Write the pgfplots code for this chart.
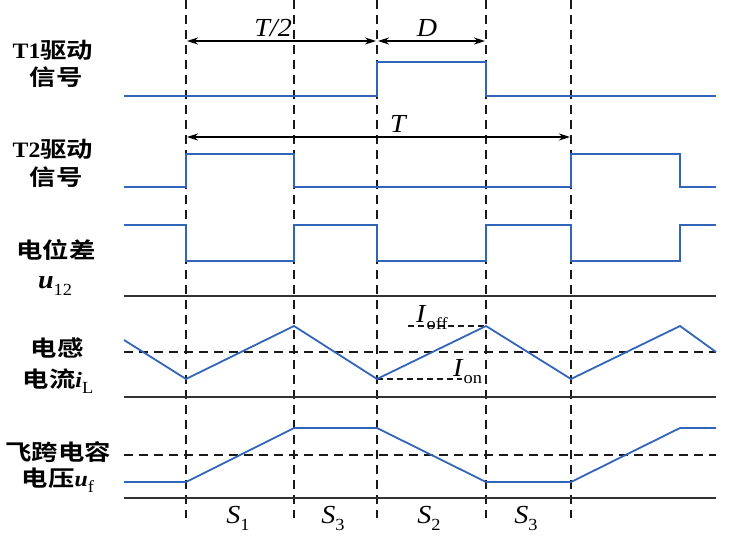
\documentclass[border=0pt]{standalone}
\usepackage{pgfplots}
\pgfplotsset{compat=1.18}
\usetikzlibrary{arrows.meta}
\usepackage{fontspec}
\setmainfont{Liberation Serif}[FakeStretch=1.08]
\newfontfamily\cjk[FakeStretch=1.2,BoldFont={Noto Sans CJK SC Bold}]{Noto Sans CJK SC}
\definecolor{sig}{RGB}{50,100,185}
\definecolor{base}{RGB}{50,50,50}
\newcommand{\sub}[1]{\raisebox{-0.6ex}{\fontsize{17}{17}\selectfont\mdseries\upshape #1}}
\begin{document}
\begin{tikzpicture}
\begin{axis}[
  at={(0,0)}, anchor=south west,
  scale only axis, width=733pt, height=538pt,
  xmin=0, xmax=733, ymin=0, ymax=538, y dir=reverse,
  hide axis, clip=false,
]
% vertical dashed guides
\foreach \xx in {186,294,377,486,571} {
  \edef\tmp{\noexpand\addplot[black!90, line width=1.1pt, dash pattern=on 9pt off 6pt] coordinates {(\xx,0) (\xx,518)};}
  \tmp
}
% baselines
\addplot[base, line width=1.6pt] coordinates {(124,296) (716,296)};
\addplot[base, line width=1.6pt] coordinates {(124,397) (716,397)};
\addplot[base, line width=1.6pt] coordinates {(124,498) (716,498)};
% mid dashed lines
\addplot[black!90, line width=1.1pt, dash pattern=on 9pt off 6pt] coordinates {(124,352) (716,352)};
\addplot[black!90, line width=1.1pt, dash pattern=on 9pt off 6pt] coordinates {(124,455) (716,455)};
\addplot[black!90, line width=1.1pt, dash pattern=on 6pt off 4pt] coordinates {(408,326) (486,326)};
\addplot[black!90, line width=1.1pt, dash pattern=on 6pt off 4pt] coordinates {(377,379) (462,379)};
% T1
\addplot[sig, line width=1.8pt] coordinates {(124,96) (377,96) (377,62) (486,62) (486,96) (716,96)};
% T2
\addplot[sig, line width=1.8pt] coordinates {(124,187) (186,187) (186,154) (294,154) (294,187) (571,187) (571,154) (680,154) (680,187) (716,187)};
% u12
\addplot[sig, line width=1.8pt] coordinates {(124,225) (186,225) (186,261) (294,261) (294,225) (377,225) (377,261) (486,261) (486,225) (571,225) (571,261) (680,261) (680,225) (716,225)};
% iL
\addplot[sig, line width=1.8pt] coordinates {(124,340) (186,379) (294,326) (377,379) (486,326) (571,379) (680,326) (716,352)};
% uf
\addplot[sig, line width=1.8pt] coordinates {(124,482) (186,482) (294,428) (377,428) (486,482) (571,482) (680,428) (716,428)};
% arrows
\addplot[black, line width=1.1pt, {Stealth[length=11pt,width=7pt,inset=3.5pt]}-{Stealth[length=11pt,width=7pt,inset=3.5pt]}] coordinates {(187,41) (376,41)};
\addplot[black, line width=1.1pt, {Stealth[length=11pt,width=7pt,inset=3.5pt]}-{Stealth[length=11pt,width=7pt,inset=3.5pt]}] coordinates {(378,41) (485,41)};
\addplot[black, line width=1.1pt, {Stealth[length=11pt,width=7pt,inset=3.5pt]}-{Stealth[length=11pt,width=7pt,inset=3.5pt]}] coordinates {(187,137) (570,137)};
% labels
\node[font=\fontsize{26}{26}\selectfont\itshape, anchor=base east, inner sep=0pt] at (axis cs:292,36) {T/2};
\node[font=\fontsize{26}{26}\selectfont\itshape, anchor=base, inner sep=0pt] at (axis cs:427,36) {D};
\node[font=\fontsize{26}{26}\selectfont\itshape, anchor=base, inner sep=0pt] at (axis cs:398,132) {T};
\node[font=\fontsize{26}{26}\selectfont, anchor=base west, inner sep=0pt] at (axis cs:416,322) {\textit{I}\sub{off}};
\node[font=\fontsize{26}{26}\selectfont, anchor=base west, inner sep=0pt] at (axis cs:453,376) {\textit{I}\sub{on}};
\node[font=\fontsize{26}{26}\selectfont, anchor=base, inner sep=0pt] at (axis cs:238,523) {\textit{S}\sub{1}};
\node[font=\fontsize{26}{26}\selectfont, anchor=base, inner sep=0pt] at (axis cs:333,523) {\textit{S}\sub{3}};
\node[font=\fontsize{26}{26}\selectfont, anchor=base, inner sep=0pt] at (axis cs:429,523) {\textit{S}\sub{2}};
\node[font=\fontsize{26}{26}\selectfont, anchor=base, inner sep=0pt] at (axis cs:526,523) {\textit{S}\sub{3}};
% left labels
\node[font=\fontsize{22}{22}\selectfont\bfseries] at (axis cs:53,50) {T1{\cjk 驱动}};
\node[font=\fontsize{22}{22}\selectfont\cjk\bfseries] at (axis cs:56,77) {信号};
\node[font=\fontsize{22}{22}\selectfont\bfseries] at (axis cs:53,149) {T2{\cjk 驱动}};
\node[font=\fontsize{22}{22}\selectfont\cjk\bfseries] at (axis cs:56,177) {信号};
\node[font=\fontsize{22}{22}\selectfont\cjk\bfseries] at (axis cs:56,250) {电位差};
\node[font=\fontsize{26}{26}\selectfont, anchor=base, inner sep=0pt] at (axis cs:55,288) {\textbf{\textit{u}}\sub{12}};
\node[font=\fontsize{22}{22}\selectfont\cjk\bfseries] at (axis cs:57,348) {电感};
\node[font=\fontsize{22}{22}\selectfont\bfseries] at (axis cs:58,381) {{\cjk 电流}\textit{i}\sub{L}};
\node[font=\fontsize{22}{22}\selectfont\cjk\bfseries] at (axis cs:58,452) {飞跨电容};
\node[font=\fontsize{22}{22}\selectfont\bfseries] at (axis cs:58,480) {{\cjk 电压}\textit{u}\sub{f}};
\end{axis}
\pgfresetboundingbox
\path (0,0) rectangle (733pt,538pt);
\end{tikzpicture}
\end{document}
